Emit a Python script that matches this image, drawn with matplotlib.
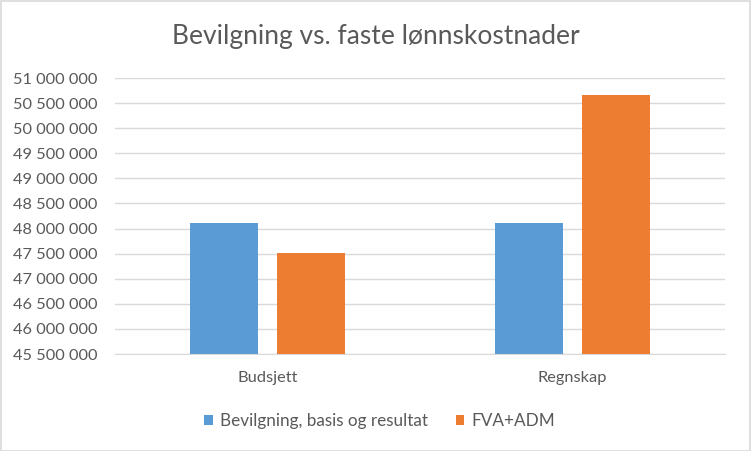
import matplotlib
matplotlib.use("Agg")
import matplotlib.pyplot as plt
from matplotlib.ticker import FuncFormatter
from matplotlib.patches import Rectangle
import numpy as np

plt.rcParams['font.family'] = ['Lato', 'DejaVu Sans']

categories = ["Budsjett", "Regnskap"]
series_names = ["Bevilgning, basis og resultat", "FVA+ADM"]
bevilgning = [48120000, 48120000]
fva_adm = [47520000, 50670000]
colors = ["#5B9BD5", "#ED7D31"]

fig = plt.figure(figsize=(7.52, 4.51), dpi=100)
fig.patch.set_facecolor("white")
fig.patches.append(Rectangle((0.001, 0.001), 0.997, 0.997, transform=fig.transFigure,
                             fill=False, edgecolor="#D9D9D9", linewidth=1.2))
ax = fig.add_axes([0.153, 0.215, 0.811, 0.612])

x = np.arange(len(categories))
w = 0.223
off = 0.142
ax.bar(x - off, bevilgning, width=w, color=colors[0], label=series_names[0], zorder=3)
ax.bar(x + off, fva_adm, width=w, color=colors[1], label=series_names[1], zorder=3)

ax.set_ylim(45500000, 51000000)
ax.set_yticks(np.arange(45500000, 51000001, 500000))
ax.yaxis.set_major_formatter(FuncFormatter(lambda v, p: f"{int(round(v)):,}".replace(",", " ")))
ax.set_xlim(-0.5, 1.5)
ax.set_xticks(x)
ax.set_xticklabels(categories)
ax.grid(axis="y", color="#D9D9D9", linewidth=1.0, zorder=0)
for s in ["top", "right", "left"]:
    ax.spines[s].set_visible(False)
ax.spines["bottom"].set_color("#D9D9D9")
ax.tick_params(axis="both", length=0, colors="#595959", labelsize=11.8)
ax.tick_params(axis="x", pad=12)
ax.tick_params(axis="y", pad=13)

fig.text(0.5, 0.918, "Bevilgning vs. faste lønnskostnader", ha="center", va="center",
         fontsize=19, color="#595959")

leg = fig.legend(loc="center", bbox_to_anchor=(0.505, 0.067), ncol=2, frameon=False,
                 fontsize=12.3, handlelength=0.5, handleheight=0.5, handletextpad=0.45,
                 columnspacing=1.6, labelcolor="#595959")

fig.savefig("out.png", dpi=100)
